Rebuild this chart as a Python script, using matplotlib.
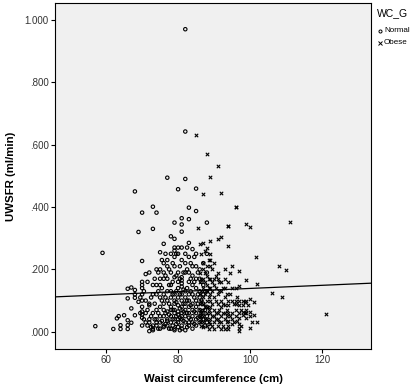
import numpy as np
import matplotlib
matplotlib.use("Agg")
import matplotlib.pyplot as plt

plt.rcParams["font.family"] = ["Liberation Sans", "DejaVu Sans"]

# WC_G = Normal (waist cm, UWSFR ml/min)
normal_x = [57, 59, 62, 63, 63.5, 64, 64, 65, 66, 66, 66, 66, 67, 66, 67, 67, 68, 68, 68, 68, 69, 69, 68,
            70, 70, 70, 70, 70, 70, 70, 70, 70, 70, 70, 70,
            71, 71, 71, 71,
            72, 72, 72, 72, 72, 72,
            73, 73, 73, 73, 73, 73, 73, 73,
            74, 74, 74, 74, 74, 74, 74, 74,
            75, 75, 75, 75, 75, 75, 75, 75, 75,
            76, 76, 76, 76, 76, 76, 76, 76, 76, 76,
            77, 77, 77, 77, 77, 77, 77, 77, 77, 77,
            78, 78, 78, 78, 78, 78, 78, 78, 78, 78, 78,
            79, 79, 79, 79, 79, 79, 79, 79, 79, 79, 79, 79, 79, 79, 79,
            80, 80, 80, 80, 80, 80, 80, 80, 80, 80, 80, 80, 80,
            81, 81, 81, 81, 81, 81, 81, 81, 81, 81, 81, 81, 81, 81, 81, 81, 81,
            82, 82, 82, 82, 82, 82, 82, 82, 82, 82, 82, 82, 82,
            83, 83, 83, 83, 83, 83, 83, 83, 83, 83, 83, 83, 83,
            84, 84, 84, 84, 84, 84, 84, 84, 84, 84,
            85, 85, 85, 85, 85, 85, 85, 85, 85, 85, 85,
            86, 86, 86, 86, 86, 86, 86,
            87, 87, 87, 87, 87, 87,
            88, 88, 88, 88, 88, 88, 88,
            69.5, 69.5, 70.5, 70.5, 71.5, 71.5, 71.5, 72.5, 72.5, 72.5, 73.5, 73.5, 73.5,
            74.5, 74.5, 74.5, 74.5, 75.5, 75.5, 75.5, 75.5, 76.5, 76.5, 76.5, 76.5, 76.5,
            77.5, 77.5, 77.5, 77.5, 77.5, 78.5, 78.5, 78.5, 78.5, 78.5, 78.5,
            79.5, 79.5, 79.5, 79.5, 79.5, 79.5, 80.5, 80.5, 80.5, 80.5, 80.5, 80.5,
            81.5, 81.5, 81.5, 81.5, 81.5, 82.5, 82.5, 82.5, 82.5, 82.5, 82.5,
            83.5, 83.5, 83.5, 83.5, 83.5, 84.5, 84.5, 84.5, 84.5, 84.5,
            85.5, 85.5, 85.5, 85.5, 86.5, 86.5, 86.5, 87.5, 87.5, 87.5]
normal_y = [0.018, 0.253, 0.009, 0.043, 0.050, 0.021, 0.009, 0.053, 0.037, 0.021, 0.009, 0.138, 0.142, 0.107, 0.075, 0.029, 0.134, 0.120, 0.053, 0.450, 0.320, 0.096, 0.109,
            0.382, 0.227, 0.160, 0.150, 0.140, 0.120, 0.100, 0.080, 0.065, 0.055, 0.045, 0.020,
            0.185, 0.100, 0.060, 0.030,
            0.190, 0.090, 0.085, 0.040, 0.002, 0.030,
            0.401, 0.330, 0.150, 0.120, 0.060, 0.020, 0.005, 0.010,
            0.382, 0.200, 0.150, 0.120, 0.070, 0.040, 0.020, 0.030,
            0.255, 0.200, 0.170, 0.150, 0.110, 0.080, 0.050, 0.030, 0.010,
            0.282, 0.220, 0.190, 0.170, 0.120, 0.090, 0.070, 0.050, 0.020, 0.015,
            0.494, 0.230, 0.210, 0.170, 0.130, 0.100, 0.065, 0.040, 0.020, 0.035,
            0.306, 0.250, 0.190, 0.150, 0.130, 0.110, 0.080, 0.070, 0.050, 0.030, 0.010,
            0.350, 0.298, 0.270, 0.260, 0.240, 0.210, 0.175, 0.120, 0.100, 0.090, 0.070, 0.060, 0.040, 0.010, 0.005,
            0.457, 0.270, 0.250, 0.190, 0.160, 0.140, 0.110, 0.085, 0.065, 0.055, 0.040, 0.030, 0.015,
            0.364, 0.344, 0.321, 0.270, 0.230, 0.175, 0.165, 0.155, 0.145, 0.120, 0.100, 0.080, 0.060, 0.050, 0.040, 0.020, 0.010,
            0.970, 0.642, 0.490, 0.250, 0.220, 0.190, 0.130, 0.110, 0.090, 0.070, 0.050, 0.030, 0.005,
            0.398, 0.361, 0.285, 0.240, 0.190, 0.160, 0.120, 0.100, 0.080, 0.060, 0.045, 0.030, 0.020,
            0.265, 0.210, 0.180, 0.150, 0.120, 0.090, 0.070, 0.050, 0.030, 0.010,
            0.459, 0.387, 0.250, 0.210, 0.170, 0.140, 0.100, 0.080, 0.060, 0.040, 0.020,
            0.200, 0.170, 0.130, 0.110, 0.070, 0.050, 0.030,
            0.220, 0.150, 0.120, 0.090, 0.060, 0.040,
            0.350, 0.250, 0.190, 0.130, 0.080, 0.050, 0.030,
            0.110, 0.060, 0.130, 0.040, 0.160, 0.070, 0.020, 0.110, 0.050, 0.015, 0.170, 0.090, 0.040,
            0.190, 0.130, 0.060, 0.010, 0.230, 0.140, 0.100, 0.035, 0.250, 0.180, 0.110, 0.060, 0.025,
            0.200, 0.150, 0.090, 0.055, 0.010, 0.220, 0.160, 0.120, 0.070, 0.040, 0.020,
            0.250, 0.180, 0.130, 0.095, 0.050, 0.025, 0.210, 0.170, 0.120, 0.075, 0.045, 0.005,
            0.190, 0.135, 0.090, 0.065, 0.035, 0.270, 0.200, 0.140, 0.100, 0.060, 0.015,
            0.220, 0.170, 0.130, 0.085, 0.040, 0.240, 0.160, 0.110, 0.065, 0.025,
            0.190, 0.120, 0.090, 0.045, 0.160, 0.100, 0.060, 0.130, 0.070, 0.020]

# WC_G = Obese
obese_x = [85, 88, 91, 89, 87, 92, 96, 85.5, 94, 99, 100, 111, 101.7, 108, 110, 106, 109, 121,
           86, 86, 86, 86, 86, 86, 86, 86,
           87, 87, 87, 87, 87, 87, 87, 87, 87, 87, 87,
           88, 88, 88, 88, 88, 88, 88, 88, 88, 88,
           89, 89, 89, 89, 89, 89, 89, 89, 89, 89, 89, 89,
           90, 90, 90, 90, 90, 90, 90, 90,
           91, 91, 91, 91, 91, 91, 91, 91,
           92, 92, 92, 92, 92, 92, 92, 92,
           93, 93, 93, 93, 93, 93, 93, 93,
           94, 94, 94, 94, 94, 94, 94, 94, 94,
           95, 95, 95, 95, 95, 95,
           96, 96, 96, 96, 96, 96,
           97, 97, 97, 97, 97, 97, 97, 97, 97,
           98, 98, 98, 98,
           99, 99, 99, 99, 99,
           100, 100, 100, 100,
           101, 101,
           102, 102,
           86.5, 86.5, 86.5, 86.5, 86.5, 86.5, 86.5, 87.5, 87.5, 87.5, 87.5, 87.5, 87.5,
           88.5, 88.5, 88.5, 88.5, 88.5, 88.5, 88.5, 89.5, 89.5, 89.5, 89.5, 89.5, 89.5,
           90.5, 90.5, 90.5, 90.5, 90.5, 91.5, 91.5, 91.5, 91.5, 92.5, 92.5, 92.5, 92.5,
           93.5, 93.5, 93.5, 93.5, 94.5, 94.5, 94.5, 95.5, 95.5, 96.5, 96.5,
           97.5, 97.5, 98.5, 98.5, 99.5, 100.5]
obese_y = [0.630, 0.571, 0.533, 0.497, 0.442, 0.444, 0.399, 0.334, 0.338, 0.344, 0.337, 0.351, 0.240, 0.212, 0.197, 0.125, 0.112, 0.056,
           0.280, 0.190, 0.160, 0.120, 0.090, 0.070, 0.050, 0.030,
           0.285, 0.220, 0.200, 0.170, 0.140, 0.110, 0.090, 0.070, 0.050, 0.030, 0.015,
           0.270, 0.210, 0.180, 0.150, 0.130, 0.100, 0.080, 0.060, 0.040, 0.020,
           0.290, 0.250, 0.230, 0.210, 0.170, 0.140, 0.120, 0.100, 0.080, 0.060, 0.040, 0.025,
           0.220, 0.170, 0.150, 0.110, 0.070, 0.050, 0.030, 0.010,
           0.297, 0.190, 0.170, 0.120, 0.090, 0.060, 0.040, 0.020,
           0.303, 0.160, 0.130, 0.100, 0.080, 0.050, 0.030, 0.010,
           0.200, 0.170, 0.140, 0.110, 0.085, 0.060, 0.040, 0.010,
           0.338, 0.276, 0.160, 0.100, 0.085, 0.060, 0.035, 0.020, 0.010,
           0.210, 0.140, 0.100, 0.060, 0.040, 0.025,
           0.399, 0.140, 0.100, 0.090, 0.070, 0.050,
           0.195, 0.148, 0.100, 0.085, 0.060, 0.045, 0.025, 0.011, 0.003,
           0.100, 0.085, 0.065, 0.055,
           0.165, 0.100, 0.070, 0.060, 0.045,
           0.106, 0.065, 0.050, 0.011,
           0.095, 0.055,
           0.153, 0.030,
           0.250, 0.170, 0.130, 0.100, 0.060, 0.040, 0.020, 0.260, 0.190, 0.160, 0.120, 0.080, 0.040,
           0.230, 0.170, 0.140, 0.110, 0.070, 0.030, 0.010, 0.200, 0.160, 0.130, 0.090, 0.050, 0.020,
           0.180, 0.140, 0.100, 0.060, 0.040, 0.160, 0.130, 0.070, 0.030, 0.140, 0.090, 0.060, 0.020,
           0.120, 0.070, 0.050, 0.030, 0.190, 0.120, 0.050, 0.090, 0.030, 0.110, 0.035,
           0.070, 0.020, 0.060, 0.095, 0.085, 0.030]

# total fit line
fit_intercept = 0.089
fit_slope = 0.0005

fig = plt.figure(figsize=(4.12, 3.86), dpi=100)
ax = fig.add_axes([0.1335, 0.096, 0.767, 0.897])
ax.set_facecolor("#f0f0f0")

ax.scatter(normal_x, normal_y, s=6, facecolors="none", edgecolors="black", linewidths=0.8, marker="o")
ax.scatter(obese_x, obese_y, s=6, c="black", linewidths=0.8, marker="x")

xlim = (45.8, 133.6)
xs = np.array(xlim)
ax.plot(xs, fit_intercept + fit_slope * xs, color="black", lw=0.9)

ax.set_xlim(*xlim)
ax.set_ylim(-0.055, 1.055)
ax.set_xticks([60, 80, 100, 120])
ax.set_yticks([0, 0.2, 0.4, 0.6, 0.8, 1.0])
ax.set_yticklabels([".000", ".200", ".400", ".600", ".800", "1.000"])
ax.tick_params(labelsize=7, length=3, width=0.8, pad=1.5, color="black", labelcolor="#333333")
for sp in ax.spines.values():
    sp.set_linewidth(0.8)

ax.set_xlabel("Waist circumference (cm)", fontsize=8.2, fontweight="bold", labelpad=6)
ax.set_ylabel("UWSFR (ml/min)", fontsize=8.2, fontweight="bold", labelpad=6)

# legend outside the plot, to the right
fig.text(377 / 412, 1 - 13 / 386, "WC_G", fontsize=7.5, va="center", ha="left")
fig.lines.append(plt.Line2D([380 / 412], [1 - 31 / 386], transform=fig.transFigure,
                            marker="o", ms=2.2, mfc="none", mec="black", mew=0.7, ls=""))
fig.lines.append(plt.Line2D([380 / 412], [1 - 43 / 386], transform=fig.transFigure,
                            marker="x", ms=2.2, mec="black", mew=0.7, ls=""))
fig.text(384 / 412, 1 - 31 / 386, "Normal", fontsize=5.8, va="center", ha="left")
fig.text(384 / 412, 1 - 43 / 386, "Obese", fontsize=5.8, va="center", ha="left")

fig.savefig("out.png", dpi=100)
